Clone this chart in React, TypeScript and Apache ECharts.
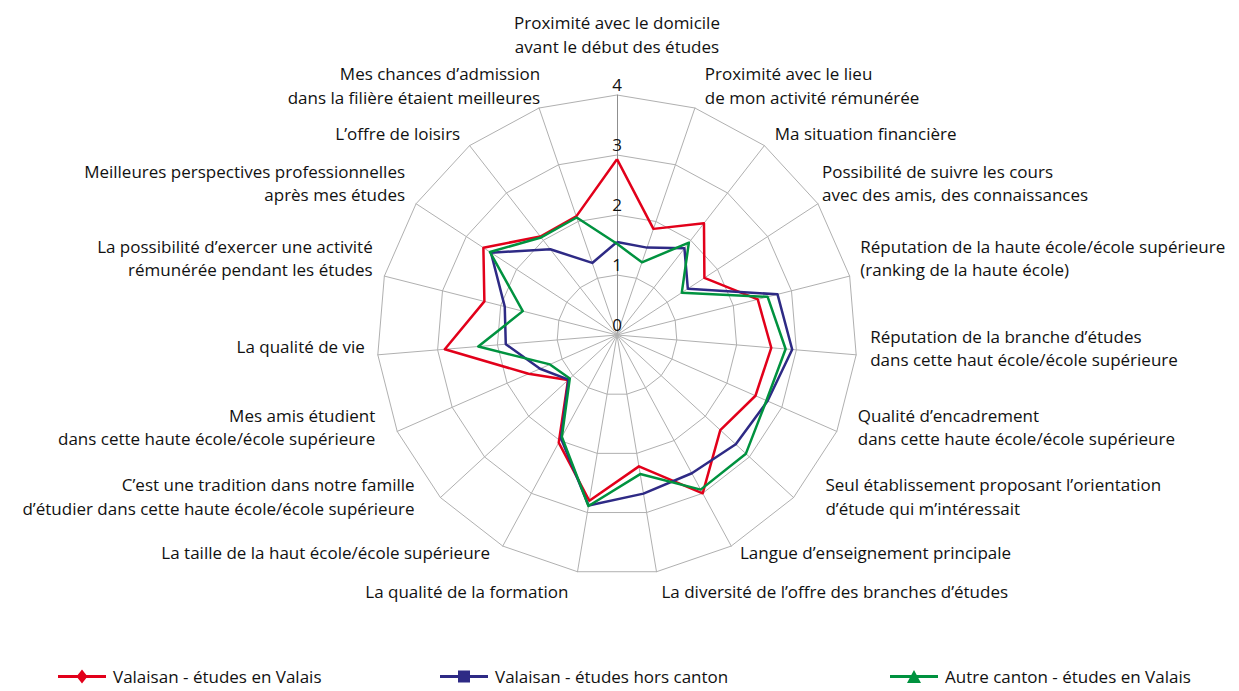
import React, { useEffect, useRef } from "react";
import * as echarts from "echarts";

// Categories in the reference's clockwise order, starting at the top
const CATEGORIES: string[] = [
  "Proximité avec le domicile\navant le début des études",
  "Proximité avec le lieu\nde mon activité rémunérée",
  "Ma situation financière",
  "Possibilité de suivre les cours\navec des amis, des connaissances",
  "Réputation de la haute école/école supérieure\n(ranking de la haute école)",
  "Réputation de la branche d’études\ndans cette haut école/école supérieure",
  "Qualité d’encadrement\ndans cette haute école/école supérieure",
  "Seul établissement proposant l’orientation\nd’étude qui m’intéressait",
  "Langue d’enseignement principale",
  "La diversité de l’offre des branches d’études",
  "La qualité de la formation",
  "La taille de la haut école/école supérieure",
  "C’est une tradition dans notre famille\nd’étudier dans cette haute école/école supérieure",
  "Mes amis étudient\ndans cette haute école/école supérieure",
  "La qualité de vie",
  "La possibilité d’exercer une activité\nrémunérée pendant les études",
  "Meilleures perspectives professionnelles\naprès mes études",
  "L’offre de loisirs",
  "Mes chances d’admission\ndans la filière étaient meilleures",
];

const SERIES_NAMES: string[] = [
  "Valaisan - études en Valais",
  "Valaisan - études hors canton",
  "Autre canton - études en Valais",
];

const VALAISAN_EN_VALAIS: number[] = [
  2.93, 1.87, 2.36, 1.74, 2.42, 2.58, 2.52, 2.34, 3.0, 2.22,
  2.8, 2.04, 1.11, 1.61, 2.88, 2.28, 2.66, 2.08, 2.09,
];
const VALAISAN_HORS_CANTON: number[] = [
  1.55, 1.54, 1.83, 1.41, 2.76, 2.93, 2.74, 2.69, 2.62, 2.68,
  2.88, 1.96, 1.1, 1.4, 1.86, 1.93, 2.51, 1.81, 1.27,
];
const AUTRE_CANTON_EN_VALAIS: number[] = [
  1.52, 1.28, 1.95, 1.29, 2.59, 2.82, 2.72, 2.92, 2.93, 2.35,
  2.89, 1.93, 1.07, 1.22, 2.32, 1.62, 2.53, 2.06, 2.07,
];

const AXIS_MIN = 0;
const AXIS_MAX = 4;
const AXIS_SPLITS = 4;

const COLORS = ["#E2001A", "#2E2A85", "#00923F"];

// label nudges [dx, dy] in px, to follow the reference placement
const LABEL_SHIFT: [number, number][] = [
  [0, -25], [6, -11], [3, -3], [-6, -14], [-1, -15], [2, -8], [10, -9], [23, -9], [3, -4], [3, 8],
  [-7, 8], [-7, -4], [-17, -9], [-11, -9], [-1, -9], [0, -15], [-1, -14], [-2, -3], [5, -11],
];

const ICONS = [
  "path://M0,5.5L48,5.5L48,8.5L0,8.5Z M24,0L29.5,7L24,14L18.5,7Z",
  "path://M0,5.5L48,5.5L48,8.5L0,8.5Z M18,1L30,1L30,13L18,13Z",
  "path://M0,5.5L48,5.5L48,8.5L0,8.5Z M24,0.5L31,13.5L17,13.5Z",
];
const LEGEND_LEFT = [58, 440, 890];

const FONT = "'Open Sans', 'Noto Sans', sans-serif";
const NAME_SIZE = 17;
const NAME_LINE = 23.5;

export default function App() {
  const ref = useRef<HTMLDivElement>(null);

  useEffect(() => {
    if (!ref.current) return;
    const chart = echarts.init(ref.current, null, { renderer: "svg" });
    const n = CATEGORIES.length;
    // ECharts places indicators counter-clockwise; reverse to get clockwise order
    const order = [0];
    for (let k = n - 1; k >= 1; k--) order.push(k);

    const rich: Record<string, any> = {};
    CATEGORIES.forEach((_, i) => {
      const [dx, dy] = LABEL_SHIFT[i];
      const isTop = i === 0;
      const isRight = i >= 1 && i <= 9;
      rich["t" + i] = {
        fontFamily: FONT,
        fontSize: NAME_SIZE,
        lineHeight: NAME_LINE,
        color: "#111",
        align: isTop ? "center" : isRight ? "left" : "right",
        padding: isTop ? [0, 0, 0, 0] : isRight ? [0, 0, 0, dx] : [0, -dx, 0, 0],
      };
      const h = isTop ? Math.abs(dy) : Math.abs(dy) * 2;
      rich["s" + i] = { fontSize: 1, lineHeight: Math.max(h, 1), color: "transparent" };
    });

    const formatter = (name: string) => {
      const i = CATEGORIES.indexOf(name);
      const [, dy] = LABEL_SHIFT[i];
      const lines = name.split("\n").map((l) => `{t${i}|${l}}`);
      if (dy < 0) lines.push(`{s${i}| }`);
      else if (dy > 0) lines.unshift(`{s${i}| }`);
      return lines.join("\n");
    };

    const indicator = order.map((idx, k) => {
      const ind: any = { name: CATEGORIES[idx], min: AXIS_MIN, max: AXIS_MAX };
      if (k !== 0) ind.axisLabel = { show: false };
      else ind.axisLine = { lineStyle: { color: "#8f8f8f", width: 1 } };
      return ind;
    });

    const seriesValues = [VALAISAN_EN_VALAIS, VALAISAN_HORS_CANTON, AUTRE_CANTON_EN_VALAIS];

    chart.setOption({
      animation: false,
      backgroundColor: "#ffffff",
      textStyle: { fontFamily: FONT },
      radar: {
        center: [617, 335],
        radius: 240,
        startAngle: 90,
        shape: "polygon",
        splitNumber: AXIS_SPLITS,
        nameGap: 12,
        indicator,
        axisName: {
          formatter,
          rich,
          fontFamily: FONT,
          fontSize: NAME_SIZE,
          color: "#111",
        },
        axisLine: { show: true, lineStyle: { color: "#b0b0b0", width: 1 } },
        splitLine: { show: true, lineStyle: { color: "#b0b0b0", width: 1 } },
        splitArea: { show: false },
        axisTick: { show: false },
        axisLabel: {
          show: true,
          margin: 0,
          align: "center",
          verticalAlign: "bottom",
          padding: [0, 0, 2, 0],
          fontFamily: FONT,
          fontSize: 17,
          color: "#111",
          showMinLabel: true,
          showMaxLabel: true,
        },
      },
      legend: SERIES_NAMES.map((nm, i) => ({
        data: [{ name: nm, icon: ICONS[i] }],
        left: LEGEND_LEFT[i],
        top: 668,
        padding: 0,
        itemWidth: 48,
        itemHeight: 14,
        itemGap: 8,
        itemStyle: { borderWidth: 0 },
        textStyle: { fontFamily: FONT, fontSize: NAME_SIZE, color: "#111", padding: [0, 0, 0, 2] },
        selectedMode: false,
      })),
      series: [
        {
          type: "radar",
          symbol: "none",
          data: SERIES_NAMES.map((nm, i) => ({
            name: nm,
            value: order.map((idx) => seriesValues[i][idx]),
            itemStyle: { color: COLORS[i] },
            lineStyle: { color: COLORS[i], width: 2.5 },
          })),
        },
      ],
    });

    return () => chart.dispose();
  }, []);

  return (
    <div
      ref={ref}
      style={{ position: "fixed", left: 0, top: 0, width: 1239, height: 691, background: "#fff" }}
    />
  );
}
